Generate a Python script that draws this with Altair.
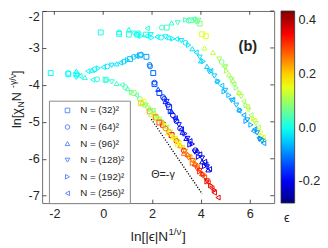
import altair as alt
import pandas as pd

FONT = "Liberation Sans"
INK = "#262626"

N_LABELS = ["N = (32)²", "N = (64)²", "N = (96)²", "N = (128)²", "N = (192)²", "N = (256)²"]
SHAPES = ["square", "circle", "triangle-up", "triangle-down", "triangle-right", "triangle-left"]

X_TICKS = [-2, 0, 2, 4, 6]
Y_TICKS = [-7, -6, -5, -4, -3, -2]
CBAR_TICKS = [-0.2, 0.0, 0.2, 0.4]
JET = ["#00007f", "#0000ff", "#007fff", "#00ffff", "#7fff7f",
       "#ffff00", "#ff7f00", "#ff0000", "#7f0000"]
EPS_DOMAIN = [-0.28, 0.435]

# (size index, x, y, epsilon)
UPPER = [
    (0, -0.10, -2.58, 0.00), (1, 0.65, -2.58, 0.00), (0, 0.65, -2.62, 0.00),
    (2, 1.05, -2.50, 0.00), (0, 1.05, -2.64, 0.01), (3, 1.25, -2.60, 0.01),
    (0, 1.40, -2.64, 0.01), (1, 1.45, -2.60, 0.01), (5, 1.80, -2.47, 0.01),
    (0, 1.75, -2.64, 0.02), (1, 2.40, -2.45, 0.02), (0, 2.60, -2.45, 0.03),
    (2, 2.80, -2.32, 0.02), (3, 3.05, -2.32, 0.03), (4, 3.38, -2.24, 0.03),
    (1, 3.50, -2.26, 0.04), (0, 3.60, -2.25, 0.05), (5, 3.70, -2.22, 0.04),
    (2, 3.80, -2.24, 0.06), (1, 3.85, -2.28, 0.07), (3, 3.90, -2.25, 0.06),
    (0, 3.95, -2.34, 0.08), (0, 4.05, -2.63, 0.14), (0, 4.20, -2.68, 0.15),
    (2, 4.15, -3.00, 0.13), (2, 4.50, -3.12, 0.12), (1, 4.85, -3.38, 0.08),
    (3, 4.75, -3.30, 0.10), (5, 4.95, -3.50, 0.08), (4, 5.05, -3.62, 0.10),
    (2, 5.15, -3.72, 0.12), (3, 5.25, -3.85, 0.09), (5, 5.35, -3.98, 0.11),
    (4, 5.45, -4.08, 0.08), (2, 5.55, -4.20, 0.13), (3, 5.65, -4.32, 0.10),
    (5, 5.75, -4.45, 0.12), (4, 5.85, -4.55, 0.09), (3, 5.95, -4.68, 0.13),
    (5, 6.05, -4.82, 0.10), (4, 6.15, -4.92, 0.14), (3, 6.25, -5.05, 0.11),
    (5, 6.35, -5.15, 0.13), (4, 6.45, -5.28, 0.15), (5, 6.55, -5.42, 0.14),
    (4, 6.60, -5.50, 0.12), (3, 5.00, -3.52, 0.11), (2, 5.30, -3.88, 0.10),
    (4, 5.60, -4.22, 0.12), (5, 5.90, -4.60, 0.11), (3, 6.20, -4.98, 0.13),
    (4, 6.50, -5.38, 0.13),
]

SHOULDER = [
    (5, 1.35, -2.64, -0.01), (4, 1.55, -2.68, -0.01), (5, 1.77, -2.68, -0.01),
    (3, 1.95, -2.64, -0.01), (4, 2.00, -2.72, -0.01), (1, 2.37, -2.72, -0.01),
    (5, 2.20, -2.70, -0.02), (3, 2.55, -2.70, -0.02), (2, 2.70, -2.72, -0.02),
    (4, 2.85, -2.75, -0.02), (5, 3.00, -2.76, -0.02), (3, 3.20, -2.80, -0.03),
    (1, 3.37, -2.86, -0.03), (4, 3.50, -2.92, -0.03), (2, 3.65, -3.02, -0.03),
    (5, 3.80, -3.12, -0.04), (3, 3.95, -3.25, -0.04), (4, 4.10, -3.36, -0.04),
    (2, 4.25, -3.50, -0.05), (5, 4.40, -3.62, -0.05), (3, 4.55, -3.76, -0.05),
    (4, 4.70, -3.90, -0.06), (5, 4.85, -4.02, -0.05), (3, 5.00, -4.15, -0.06),
    (4, 5.15, -4.28, -0.06), (5, 5.30, -4.40, -0.07), (3, 5.45, -4.55, -0.06),
    (4, 5.60, -4.68, -0.07), (5, 5.75, -4.82, -0.07), (3, 5.90, -4.95, -0.08),
    (4, 6.05, -5.08, -0.07), (5, 6.20, -5.20, -0.08), (3, 6.30, -5.30, -0.08),
    (4, 6.45, -5.45, -0.09), (5, 6.57, -5.58, -0.08), (3, 6.50, -5.52, -0.09),
    (2, 4.00, -3.35, -0.04), (3, 4.35, -3.65, -0.05), (5, 4.65, -3.92, -0.05),
    (4, 4.95, -4.18, -0.06), (3, 5.25, -4.42, -0.07), (5, 5.55, -4.70, -0.07),
    (4, 5.85, -4.98, -0.08), (5, 6.15, -5.25, -0.08), (3, 6.40, -5.48, -0.08),
]

NEG_BRANCH = [
    (0, -2.15, -3.68, -0.01), (1, -1.43, -3.68, -0.01), (0, -1.43, -3.71, -0.01),
    (2, -1.10, -3.63, -0.01), (3, -1.05, -3.75, -0.01), (0, -1.10, -3.72, -0.01),
    (5, -0.63, -3.63, -0.01), (2, -0.45, -3.60, -0.02), (1, -0.35, -3.58, -0.02),
    (4, -0.20, -3.55, -0.02), (5, 0.00, -3.52, -0.02), (1, 0.17, -3.50, -0.03),
    (3, 0.35, -3.47, -0.03), (2, 0.55, -3.43, -0.03), (5, 0.70, -3.40, -0.04),
    (1, 0.85, -3.37, -0.04), (4, 1.00, -3.33, -0.04), (0, 1.10, -3.30, -0.05),
    (1, 1.25, -3.24, -0.05), (5, 1.35, -3.22, -0.06), (0, 1.50, -3.20, -0.06),
    (1, 1.55, -3.18, -0.07), (0, 1.77, -3.24, -0.08), (1, 1.90, -3.46, -0.10),
    (1, 1.92, -3.50, -0.11), (0, 2.05, -3.68, -0.12), (1, 2.10, -3.94, -0.14),
    (0, 2.10, -3.98, -0.14), (2, 2.25, -4.12, -0.15), (1, 2.45, -4.33, -0.16),
    (1, 2.50, -4.38, -0.17), (3, 2.60, -4.45, -0.16), (1, 2.65, -4.54, -0.18),
    (0, 2.70, -4.60, -0.17), (2, 2.80, -4.72, -0.18), (1, 2.85, -4.82, -0.19),
    (5, 2.95, -4.90, -0.17), (1, 3.00, -4.98, -0.20), (3, 3.10, -5.08, -0.18),
    (1, 3.15, -5.18, -0.20), (2, 3.25, -5.28, -0.19), (4, 3.35, -5.32, -0.18),
    (3, 3.45, -5.45, -0.20), (5, 3.55, -5.52, -0.19), (4, 3.65, -5.60, -0.20),
    (1, 3.77, -5.77, -0.22), (2, 3.85, -5.78, -0.20), (5, 3.95, -5.88, -0.21),
    (3, 4.05, -5.98, -0.20), (5, 4.15, -6.08, -0.22), (3, 4.25, -6.22, -0.20),
    (2, 4.30, -6.30, -0.21), (5, 4.20, -6.15, -0.18), (0, 2.30, -4.22, -0.15),
    (2, 2.55, -4.45, -0.17), (4, 2.75, -4.72, -0.16), (3, 2.95, -4.95, -0.18),
    (5, 3.20, -5.20, -0.18), (2, 3.40, -5.45, -0.19), (4, 3.55, -5.62, -0.19),
    (3, 3.75, -5.82, -0.21), (4, 3.90, -5.95, -0.20), (2, 4.05, -6.08, -0.22),
    (4, 4.15, -6.20, -0.21), (5, 4.35, -6.28, -0.20),
]

POS_BRANCH = [
    (3, -1.10, -3.80, 0.00), (5, -0.95, -3.76, 0.00), (2, -0.75, -3.80, 0.01),
    (5, -0.43, -3.86, 0.01), (1, -0.25, -3.85, 0.01), (0, 0.10, -3.86, 0.01),
    (4, 0.15, -3.88, 0.02), (3, 0.35, -3.92, 0.02), (2, 0.55, -3.96, 0.03),
    (5, 0.77, -4.00, 0.03), (1, 0.90, -4.06, 0.05), (2, 1.00, -4.10, 0.04),
    (4, 1.17, -4.20, 0.06), (0, 1.25, -4.22, 0.10), (5, 1.35, -4.28, 0.05),
    (1, 1.50, -4.38, 0.08), (0, 1.65, -4.46, 0.17), (2, 1.60, -4.48, 0.07),
    (3, 1.75, -4.55, 0.08), (1, 1.85, -4.62, 0.12), (0, 1.90, -4.72, 0.24),
    (4, 1.95, -4.66, 0.08), (5, 2.05, -4.76, 0.07), (1, 2.10, -4.82, 0.18),
    (0, 2.15, -4.88, 0.28), (2, 2.25, -4.88, 0.11), (3, 2.30, -4.93, 0.10),
    (1, 2.40, -5.02, 0.24), (0, 2.45, -5.08, 0.32), (4, 2.50, -5.06, 0.11),
    (2, 2.55, -5.12, 0.15), (5, 2.60, -5.15, 0.10), (1, 2.70, -5.28, 0.29),
    (3, 2.75, -5.28, 0.15), (0, 2.80, -5.36, 0.36), (2, 2.85, -5.40, 0.20),
    (4, 2.90, -5.40, 0.15), (5, 2.95, -5.45, 0.14), (1, 3.00, -5.52, 0.34),
    (3, 3.05, -5.55, 0.20), (2, 3.15, -5.64, 0.25), (4, 3.20, -5.66, 0.20),
    (5, 3.25, -5.70, 0.18), (1, 3.30, -5.78, 0.37), (3, 3.35, -5.80, 0.25),
    (2, 3.45, -5.88, 0.29), (4, 3.50, -5.90, 0.25), (5, 3.55, -5.95, 0.22),
    (3, 3.65, -6.05, 0.29), (2, 3.75, -6.14, 0.33), (4, 3.80, -6.14, 0.29),
    (5, 3.85, -6.22, 0.26), (3, 3.95, -6.32, 0.33), (2, 4.05, -6.40, 0.37),
    (4, 4.10, -6.42, 0.33), (5, 4.15, -6.50, 0.29), (3, 4.25, -6.60, 0.37),
    (4, 4.40, -6.72, 0.37), (5, 4.45, -6.80, 0.33), (5, 4.70, -7.05, 0.37),
    (0, 1.55, -4.50, 0.20), (1, 1.70, -4.55, 0.10), (2, 1.95, -4.80, 0.12),
    (3, 2.05, -4.70, 0.09), (4, 2.20, -4.92, 0.13), (5, 2.35, -5.00, 0.12),
    (0, 2.30, -5.02, 0.30), (1, 2.55, -5.18, 0.26), (2, 2.65, -5.30, 0.18),
    (3, 2.90, -5.48, 0.18), (4, 3.05, -5.60, 0.18), (5, 3.10, -5.58, 0.16),
    (2, 3.30, -5.85, 0.27), (3, 3.50, -5.98, 0.27), (4, 3.65, -6.12, 0.27),
    (5, 3.70, -6.08, 0.24), (3, 3.85, -6.28, 0.31), (4, 3.95, -6.35, 0.31),
    (5, 4.05, -6.45, 0.28), (4, 4.25, -6.62, 0.35), (5, 4.30, -6.65, 0.31),
    (5, 4.55, -6.92, 0.35), (4, 4.55, -6.85, 0.37),
]

SLOPE_X = [1.97, 4.05]
SLOPE_Y = [-4.93, -6.95]

rows = []
for series in (UPPER, SHOULDER, NEG_BRANCH, POS_BRANCH):
    for n, x, y, e in series:
        rows.append({"x": x, "y": y, "eps": e, "N": N_LABELS[n]})
df = pd.DataFrame(rows)

W, H = 238, 197
xs = alt.Scale(domain=[-2.5, 7], nice=False, zero=False)
ys = alt.Scale(domain=[-7.2, -2], nice=False, zero=False)
step = (EPS_DOMAIN[1] - EPS_DOMAIN[0]) / (len(JET) - 1)
cdom = [EPS_DOMAIN[0] + i * step for i in range(len(JET))]
cscale = alt.Scale(domain=cdom, range=JET, interpolate="rgb")

int_label = "datum.value < 0 ? '-' + format(-datum.value, 'd') : format(datum.value, 'd')"
dec_label = "datum.value < -0.001 ? '-' + format(-datum.value, '.1f') : format(abs(datum.value), '.1f')"

x_axis = alt.Axis(values=X_TICKS, offset=-4, tickSize=4, domain=False, grid=False,
                  labelFont=FONT, labelFontSize=13, labelColor=INK, tickColor=INK,
                  tickWidth=0.8, labelPadding=5, title=None, labelExpr=int_label)
y_axis = alt.Axis(values=Y_TICKS, offset=-4, tickSize=4, domain=False, grid=False,
                  labelFont=FONT, labelFontSize=13, labelColor=INK, tickColor=INK,
                  tickWidth=0.8, labelPadding=3, title=None, labelExpr=int_label,
                  labelFlush=True)

points = alt.Chart(df).mark_point(filled=False, size=25, strokeWidth=1.0, opacity=1).encode(
    x=alt.X("x:Q", scale=xs, axis=x_axis),
    y=alt.Y("y:Q", scale=ys, axis=y_axis),
    color=alt.Color("eps:Q", scale=cscale, legend=alt.Legend(
        orient="none", legendX=245, legendY=0, direction="vertical",
        gradientLength=H, gradientThickness=14, gradientStrokeColor="#333333",
        gradientStrokeWidth=0.8, labelFont=FONT, labelFontSize=13, labelColor=INK,
        labelOffset=4, values=CBAR_TICKS, labelExpr=dec_label, title=None,
        padding=0, labelOverlap=False)),
    shape=alt.Shape("N:N", scale=alt.Scale(domain=N_LABELS, range=SHAPES), legend=alt.Legend(
        orient="none", legendX=7, legendY=92, title=None, labelFont=FONT,
        labelFontSize=10, labelColor=INK, symbolSize=22, symbolStrokeWidth=0.9,
        symbolStrokeColor="#4d7fff", symbolFillColor="transparent",
        strokeColor="#888888", fillColor="white", padding=5, rowPadding=7,
        symbolOffset=9, labelOffset=8)),
)

top_ticks = alt.Chart(pd.DataFrame({"x": X_TICKS})).mark_rule(color=INK, strokeWidth=0.8).encode(
    x=alt.X("x:Q", scale=xs, axis=x_axis), y=alt.value(0), y2=alt.value(4))
right_ticks = alt.Chart(pd.DataFrame({"y": Y_TICKS})).mark_rule(color=INK, strokeWidth=0.8).encode(
    y=alt.Y("y:Q", scale=ys, axis=y_axis), x=alt.value(W - 4), x2=alt.value(W))

slope = alt.Chart(pd.DataFrame({"x": SLOPE_X, "y": SLOPE_Y})).mark_line(
    color="black", strokeWidth=1.3, strokeDash=[1.2, 1.6]).encode(
    x=alt.X("x:Q", scale=xs, axis=x_axis), y=alt.Y("y:Q", scale=ys, axis=y_axis))


def txt(text, x, y, size, angle=0, weight="normal", align="left", baseline="alphabetic"):
    return alt.Chart(pd.DataFrame({"t": [text]})).mark_text(
        font=FONT, fontSize=size, angle=angle, fontWeight=weight, align=align,
        baseline=baseline, color=INK).encode(text="t:N", x=alt.value(x), y=alt.value(y))


labels = [
    txt("(b)", 211, 36, 15, weight="bold", align="center", baseline="middle"),
    txt("Θ=-γ", 124, 168, 11, align="center", baseline="middle"),
    txt("ϵ", 251, 212, 13, align="center", baseline="middle"),
    # x title: ln[|ϵ|N^{1/ν}]
    txt("ln[|ϵ|N", 91, 236, 14),
    txt("1/ν", 129.5, 230, 10),
    txt("]", 143.5, 236, 14),
    # y title: ln[χ_N N^{-γ/ν}]
    txt("ln[χ", -22, 120, 13, angle=270),
    txt("N", -19, 99, 9, angle=270),
    txt(" N", -22, 92.5, 13, angle=270),
    txt("-γ/ν", -27, 79, 9, angle=270),
    txt("]", -22, 64.5, 13, angle=270),
]

chart = alt.layer(points, top_ticks, right_ticks, slope, *labels).properties(
    width=W, height=H,
    autosize=alt.AutoSizeParams(type="none"),
    padding={"left": 35, "top": 0, "right": 47, "bottom": 43},
).configure_view(stroke="#6e6e6e", strokeWidth=1)

chart.save("out.html", embed_options={"renderer": "svg", "actions": False})
